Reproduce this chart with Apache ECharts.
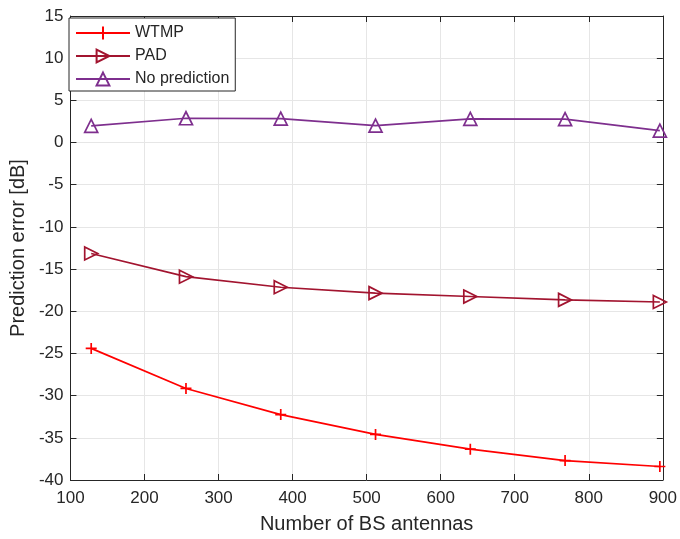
<!DOCTYPE html>
<html><head><meta charset="utf-8">
<script src="https://cdn.jsdelivr.net/npm/echarts@6/dist/echarts.min.js"></script>
<style>html,body{margin:0;padding:0;background:#fff}#c{width:680px;height:539px}</style>
</head><body><div id="c"></div>
<script>
var antennas = [128, 256, 384, 512, 640, 768, 896];
var wtmp = [-24.4, -29.15, -32.25, -34.6, -36.35, -37.7, -38.4];
var pad = [-13.15, -15.9, -17.15, -17.85, -18.25, -18.65, -18.9];
var noPred = [1.97, 2.88, 2.83, 2.0, 2.8, 2.78, 1.42];
var seriesNames = ['WTMP', 'PAD', 'No prediction'];
var xTitle = 'Number of BS antennas';
var yTitle = 'Prediction error [dB]';

var axisCol = '#262626';
var font = 'Liberation Sans, Arial, Helvetica, sans-serif';
function pairs(v){ return antennas.map(function(x,i){return [x, v[i]];}); }
var plusPath = 'path://M5,0 L5,10 M0,5 L10,5';
var rightTri = 'path://M0,0 L10,5 L0,10 Z';
var upTri = 'path://M5,0 L10,9 L0,9 Z';

var chart = echarts.init(document.getElementById('c'), null, {renderer:'canvas'});
function mk(name, data, color, symbol, size){
  return {
    name: name, type: 'line', data: pairs(data), xAxisIndex: 0, yAxisIndex: 0,
    symbol: symbol, symbolSize: size, showAllSymbol: true,
    lineStyle: {color: color, width: 1.7},
    itemStyle: {color: 'rgba(255,255,255,0)', borderColor: color, borderWidth: 1.7},
    emphasis: {disabled: true}, animation: false
  };
}
var option = {
  animation: false,
  grid: {left: 68, right: 17, top: 16, bottom: 54, containLabel: false},
  legend: {
    left: 69, top: 18, orient: 'vertical',
    data: seriesNames,
    itemWidth: 54, itemHeight: 16, itemGap: 7,
    padding: [7, 6, 4, 6],
    backgroundColor: '#fff', borderColor: axisCol, borderWidth: 1,
    textStyle: {fontFamily: font, fontSize: 16, color: axisCol}
  },
  xAxis: [{
    type: 'value', min: 100, max: 900, interval: 100,
    name: xTitle, nameLocation: 'middle', nameGap: 34,
    nameTextStyle: {fontFamily: font, fontSize: 20, color: axisCol},
    axisLine: {show: true, onZero: false, lineStyle: {color: axisCol, width: 1}},
    axisTick: {show: true, inside: true, length: 6, lineStyle: {color: axisCol}},
    axisLabel: {fontFamily: font, fontSize: 17, color: axisCol, margin: 10},
    splitLine: {show: true, lineStyle: {color: '#e6e6e6', width: 1}}
  }, {
    type: 'value', min: 100, max: 900, interval: 100, position: 'top',
    axisLine: {show: true, onZero: false, lineStyle: {color: axisCol, width: 1}},
    axisTick: {show: true, inside: true, length: 6, lineStyle: {color: axisCol}},
    axisLabel: {show: false}, splitLine: {show: false}
  }],
  yAxis: [{
    type: 'value', min: -40, max: 15, interval: 5,
    name: yTitle, nameLocation: 'middle', nameGap: 41, nameRotate: 90,
    nameTextStyle: {fontFamily: font, fontSize: 20, color: axisCol},
    axisLine: {show: true, onZero: false, lineStyle: {color: axisCol, width: 1}},
    axisTick: {show: true, inside: true, length: 6, lineStyle: {color: axisCol}},
    axisLabel: {fontFamily: font, fontSize: 17, color: axisCol, margin: 7},
    splitLine: {show: true, lineStyle: {color: '#e6e6e6', width: 1}}
  }, {
    type: 'value', min: -40, max: 15, interval: 5, position: 'right',
    axisLine: {show: true, onZero: false, lineStyle: {color: axisCol, width: 1}},
    axisTick: {show: true, inside: true, length: 6, lineStyle: {color: axisCol}},
    axisLabel: {show: false}, splitLine: {show: false}
  }],
  series: [
    mk(seriesNames[0], wtmp, '#FF0000', plusPath, 11),
    mk(seriesNames[1], pad, '#A2142F', rightTri, 13),
    mk(seriesNames[2], noPred, '#7E2F8E', upTri, 13)
  ]
};
chart.setOption(option);
</script></body></html>
